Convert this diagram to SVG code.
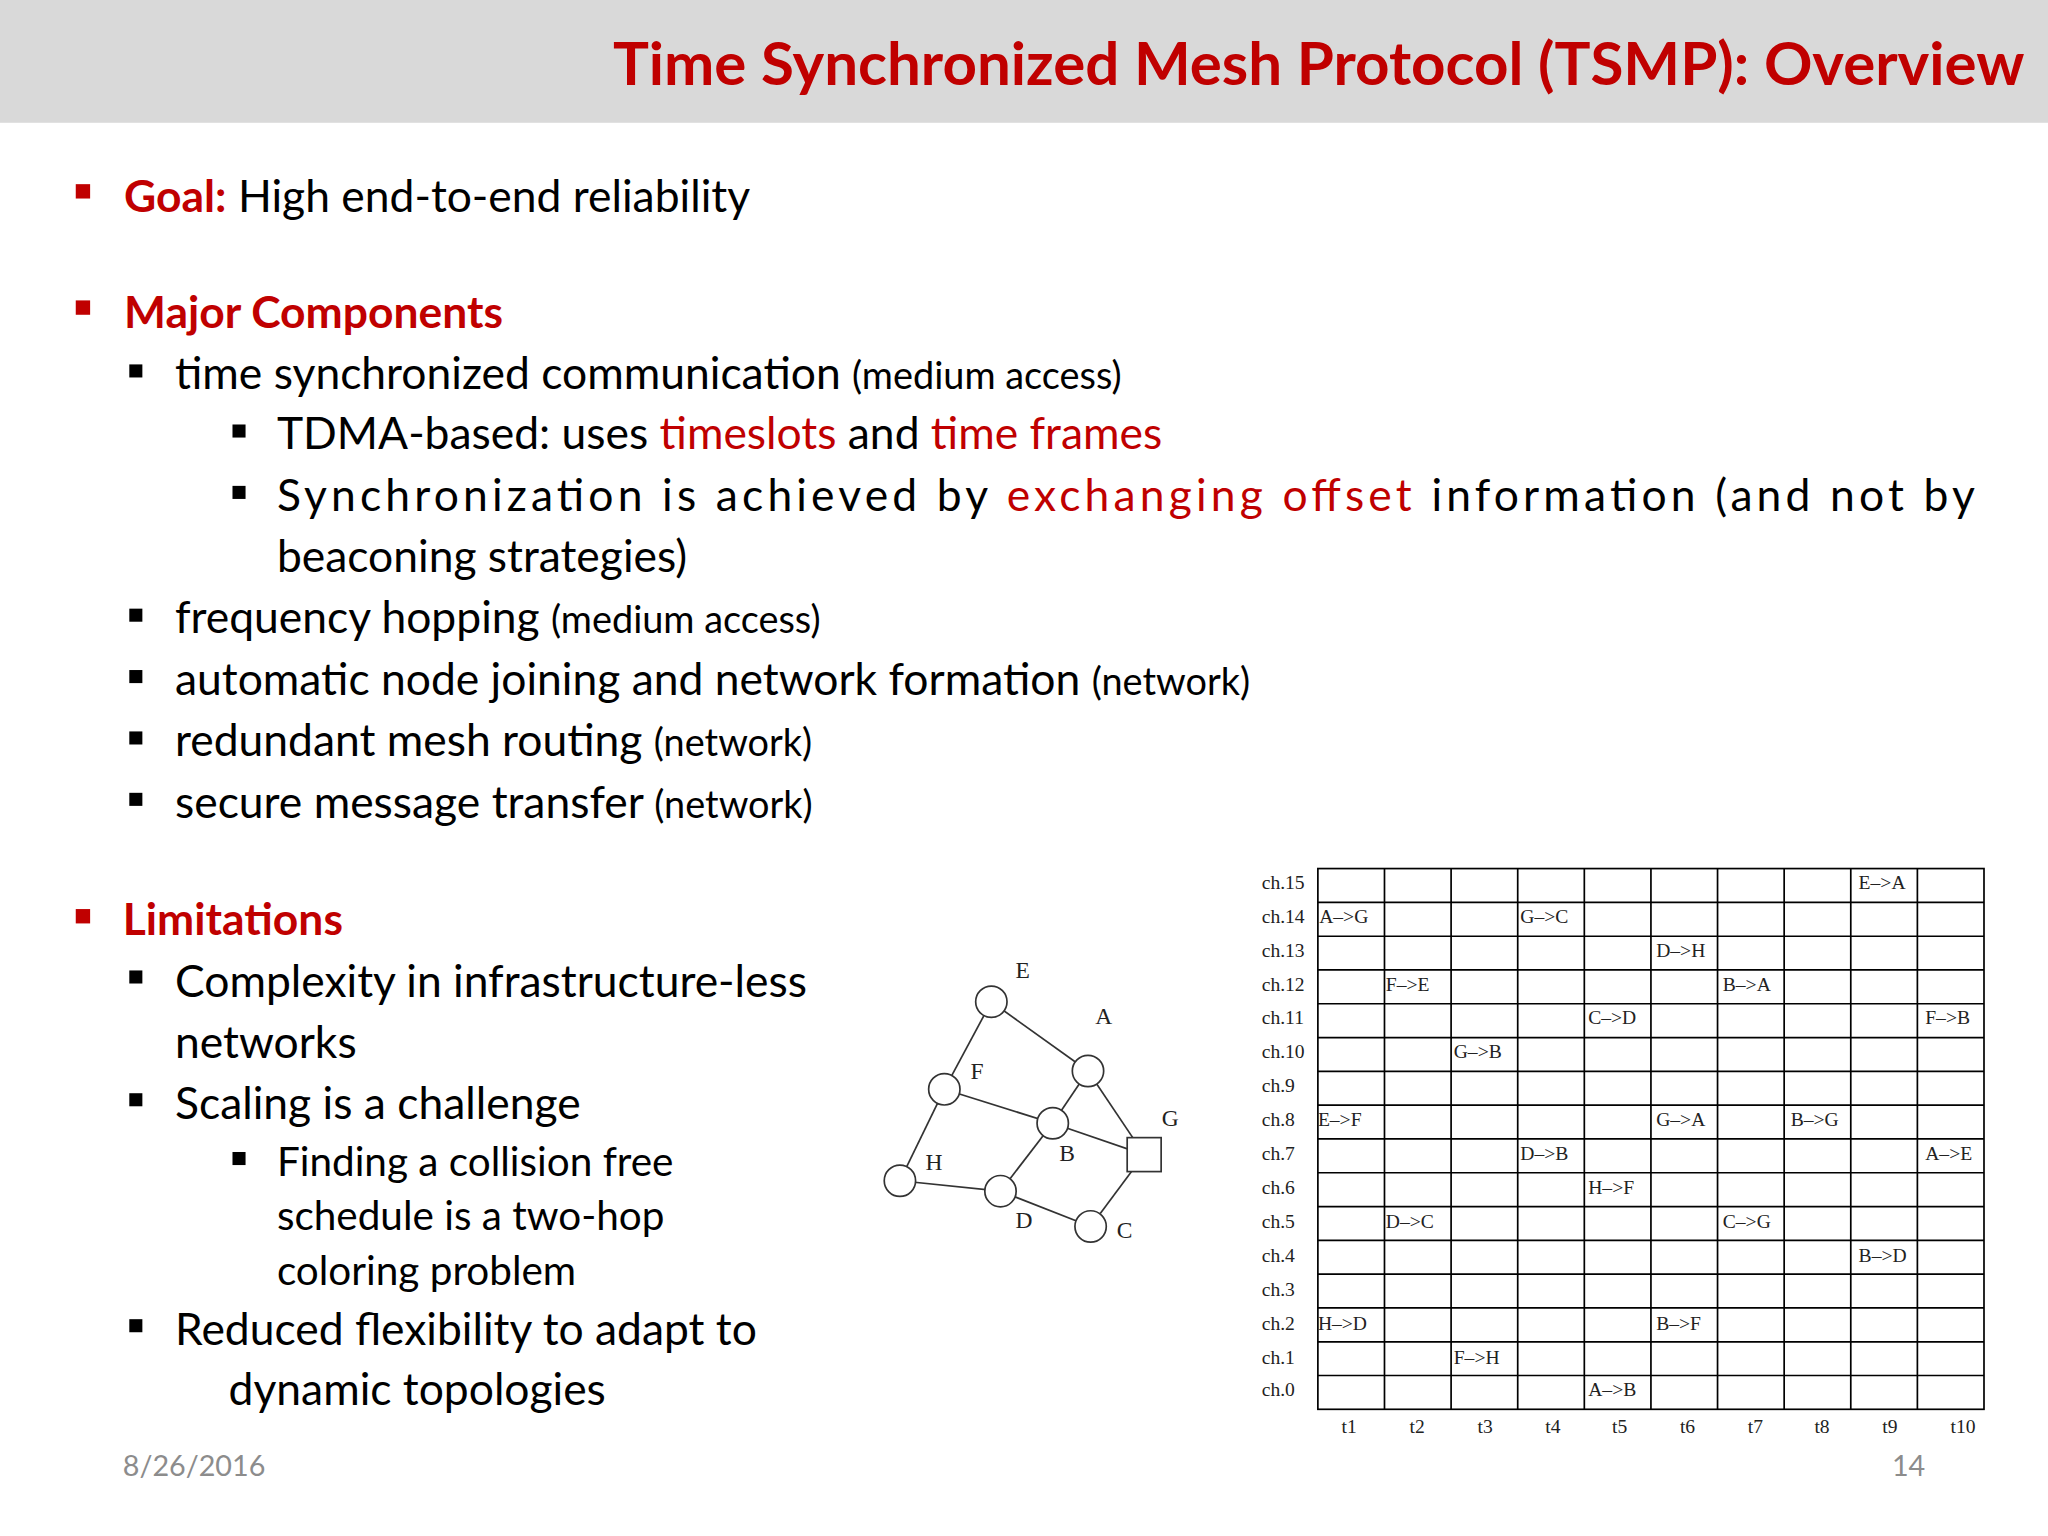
<svg xmlns="http://www.w3.org/2000/svg" width="2048" height="1536" viewBox="0 0 2048 1536">
<style>
.t{font-family:Lato,"Open Sans",sans-serif;fill:#000}
.r{fill:#c00000}
.b{font-size:34px}
.s{font-size:29px}
.m{font-family:"Liberation Serif",serif;font-size:15px;fill:#222}
.g{font-family:"Liberation Serif",serif;font-size:18px;fill:#222}
.gl{stroke:#000;stroke-width:1.3;fill:none}
.n{fill:#fff;stroke:#333;stroke-width:1.3}
</style>
<rect width="2048" height="1536" fill="#fff"/>
<g transform="scale(1.30612)">
<rect x="0" y="0" width="1568" height="94" fill="#d9d9d9"/>
<text class="t r" x="1550" y="65" text-anchor="end" font-size="46" font-weight="bold">Time Synchronized Mesh Protocol (TSMP): Overview</text>
<g id="bullets">
<rect x="58" y="141" width="11" height="11" class="r"/>
<text class="t b" x="95" y="162"><tspan class="r" font-weight="bold">Goal:</tspan> High end-to-end reliability</text>
<rect x="58" y="230" width="11" height="11" class="r"/>
<text class="t b r" x="95" y="251" font-weight="bold">Major Components</text>
<rect x="99" y="279" width="10" height="10"/>
<text class="t b" x="134" y="298">time synchronized communication <tspan class="s">(medium access)</tspan></text>
<rect x="178" y="325" width="10" height="10"/>
<text class="t b" x="212" y="344">TDMA-based: uses <tspan class="r">timeslots</tspan> and <tspan class="r">time frames</tspan></text>
<rect x="178" y="372" width="10" height="10"/>
<text class="t b" x="212" y="391" textLength="1300" lengthAdjust="spacing">Synchronization is achieved by <tspan class="r">exchanging offset</tspan> information (and not by</text>
<text class="t b" x="212" y="438">beaconing strategies)</text>
<rect x="99" y="466" width="10" height="10"/>
<text class="t b" x="134" y="485">frequency hopping <tspan class="s">(medium access)</tspan></text>
<rect x="99" y="513" width="10" height="10"/>
<text class="t b" x="134" y="532">automatic node joining and network formation <tspan class="s">(network)</tspan></text>
<rect x="99" y="560" width="10" height="10"/>
<text class="t b" x="134" y="579">redundant mesh routing <tspan class="s">(network)</tspan></text>
<rect x="99" y="607" width="10" height="10"/>
<text class="t b" x="134" y="626">secure message transfer <tspan class="s">(network)</tspan></text>
<rect x="58" y="696" width="11" height="11" class="r"/>
<text class="t b r" x="94" y="716" font-weight="bold">Limitations</text>
<rect x="99" y="743" width="10" height="10"/>
<text class="t b" x="134" y="763">Complexity in infrastructure-less</text>
<text class="t b" x="134" y="810">networks</text>
<rect x="99" y="837" width="10" height="10"/>
<text class="t b" x="134" y="857">Scaling is a challenge</text>
<rect x="178" y="882" width="10" height="10"/>
<text class="t" font-size="31" x="212" y="900">Finding a collision free</text>
<text class="t" font-size="31" x="212" y="942">schedule is a two-hop</text>
<text class="t" font-size="31" x="212" y="984">coloring problem</text>
<rect x="99" y="1010" width="10" height="10"/>
<text class="t b" x="134" y="1030">Reduced flexibility to adapt to</text>
<text class="t b" x="175" y="1076">dynamic topologies</text>
<text class="t" font-size="22" fill="#888" x="94" y="1130" style="fill:#8c8c8c">8/26/2016</text>
<text class="t" font-size="22" x="1474" y="1130" text-anchor="end" style="fill:#8c8c8c">14</text>
</g>
<g id="connectors" stroke="#333" stroke-width="1.3">
<line x1="759" y1="767" x2="723" y2="834"/>
<line x1="759" y1="767" x2="833" y2="820"/>
<line x1="723" y1="834" x2="689" y2="904"/>
<line x1="723" y1="834" x2="806" y2="860"/>
<line x1="833" y1="820" x2="806" y2="860"/>
<line x1="833" y1="820" x2="876" y2="884"/>
<line x1="806" y1="860" x2="876" y2="884"/>
<line x1="806" y1="860" x2="766" y2="912"/>
<line x1="689" y1="904" x2="766" y2="912"/>
<line x1="766" y1="912" x2="835" y2="939"/>
<line x1="835" y1="939" x2="876" y2="884"/>
</g>
<g id="nE"><circle class="n" cx="759" cy="767" r="12"/><text class="g" x="783" y="749" text-anchor="middle">E</text></g>
<g id="nA"><circle class="n" cx="833" cy="820" r="12"/><text class="g" x="845" y="784" text-anchor="middle">A</text></g>
<g id="nF"><circle class="n" cx="723" cy="834" r="12"/><text class="g" x="748" y="826" text-anchor="middle">F</text></g>
<g id="nB"><circle class="n" cx="806" cy="860" r="12"/><text class="g" x="817" y="889" text-anchor="middle">B</text></g>
<g id="nG"><rect class="n" x="863" y="871" width="26" height="26"/><text class="g" x="896" y="862" text-anchor="middle">G</text></g>
<g id="nH"><circle class="n" cx="689" cy="904" r="12"/><text class="g" x="715" y="896" text-anchor="middle">H</text></g>
<g id="nD"><circle class="n" cx="766" cy="912" r="12"/><text class="g" x="784" y="940" text-anchor="middle">D</text></g>
<g id="nC"><circle class="n" cx="835" cy="939" r="12"/><text class="g" x="861" y="948" text-anchor="middle">C</text></g>
<g id="schedule">
<rect class="gl" x="1009" y="665" width="510" height="414"/>
<path class="gl" d="M1060 665V1079M1111 665V1079M1162 665V1079M1213 665V1079M1264 665V1079M1315 665V1079M1366 665V1079M1417 665V1079M1468 665V1079
M1009 690.9H1519M1009 716.8H1519M1009 742.6H1519M1009 768.5H1519M1009 794.4H1519M1009 820.3H1519M1009 846.1H1519M1009 872H1519M1009 897.9H1519M1009 923.8H1519M1009 949.6H1519M1009 975.5H1519M1009 1001.4H1519M1009 1027.3H1519M1009 1053.1H1519"/>
<g class="m">
<text x="966" y="681">ch.15</text><text x="966" y="707">ch.14</text><text x="966" y="733">ch.13</text><text x="966" y="759">ch.12</text><text x="966" y="784">ch.11</text><text x="966" y="810">ch.10</text><text x="966" y="836">ch.9</text><text x="966" y="862">ch.8</text><text x="966" y="888">ch.7</text><text x="966" y="914">ch.6</text><text x="966" y="940">ch.5</text><text x="966" y="966">ch.4</text><text x="966" y="992">ch.3</text><text x="966" y="1018">ch.2</text><text x="966" y="1044">ch.1</text><text x="966" y="1069">ch.0</text>
</g>
<g class="m" text-anchor="middle">
<text x="1033" y="1097">t1</text><text x="1085" y="1097">t2</text><text x="1137" y="1097">t3</text><text x="1189" y="1097">t4</text><text x="1240" y="1097">t5</text><text x="1292" y="1097">t6</text><text x="1344" y="1097">t7</text><text x="1395" y="1097">t8</text><text x="1447" y="1097">t9</text><text x="1503" y="1097">t10</text>
</g>
<g class="m">
<text x="1423" y="681">E–&gt;A</text>
<text x="1010" y="707">A–&gt;G</text><text x="1164" y="707">G–&gt;C</text>
<text x="1268" y="733">D–&gt;H</text>
<text x="1061" y="759">F–&gt;E</text><text x="1319" y="759">B–&gt;A</text>
<text x="1216" y="784">C–&gt;D</text><text x="1474" y="784">F–&gt;B</text>
<text x="1113" y="810">G–&gt;B</text>
<text x="1009" y="862">E–&gt;F</text><text x="1268" y="862">G–&gt;A</text><text x="1371" y="862">B–&gt;G</text>
<text x="1164" y="888">D–&gt;B</text><text x="1474" y="888">A–&gt;E</text>
<text x="1216" y="914">H–&gt;F</text>
<text x="1061" y="940">D–&gt;C</text><text x="1319" y="940">C–&gt;G</text>
<text x="1423" y="966">B–&gt;D</text>
<text x="1009" y="1018">H–&gt;D</text><text x="1268" y="1018">B–&gt;F</text>
<text x="1113" y="1044">F–&gt;H</text>
<text x="1216" y="1069">A–&gt;B</text>
</g>
</g>
</g>
</svg>
